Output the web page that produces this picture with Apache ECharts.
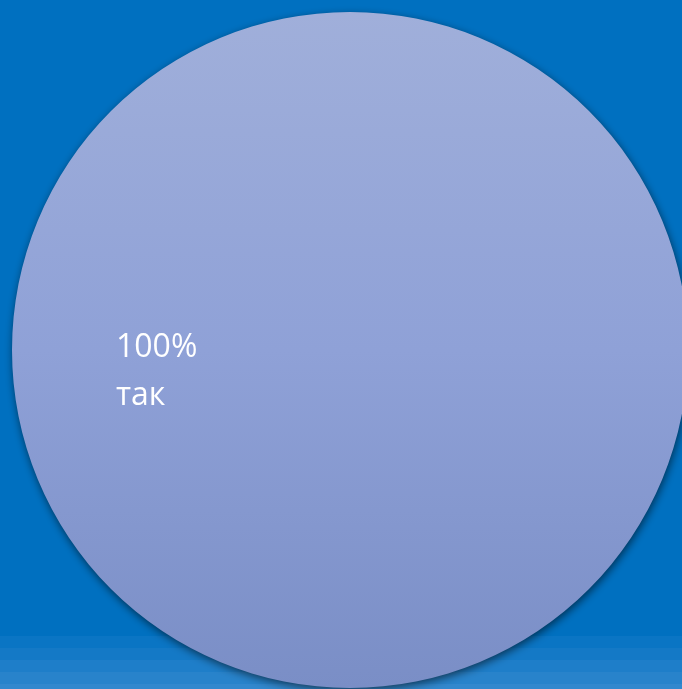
<!DOCTYPE html>
<html>
<head>
<meta charset="utf-8">
<script src="https://cdn.jsdelivr.net/npm/echarts@6/dist/echarts.min.js"></script>
<style>html,body{margin:0;padding:0;background:#0070C0;}#c{width:682px;height:689px;}</style>
</head>
<body>
<div id="c"></div>
<script>
var categories = ['так'];
var values = [100];

var chart = echarts.init(document.getElementById('c'));
var bands = ['#0A75C4', '#1479C6', '#1E7EC9', '#2883CB', '#3288CE'];
var graphics = bands.map(function (c, i) {
  return { type: 'rect', z: -10, silent: true, shape: { x: 0, y: 636 + i * 12, width: 682, height: 12 }, style: { fill: c } };
});
chart.setOption({
  backgroundColor: '#0070C0',
  graphic: graphics,
  series: [{
    type: 'pie',
    center: [350, 350],
    radius: 338,
    startAngle: 0,
    silent: true,
    data: categories.map(function (n, i) { return { name: n, value: values[i] }; }),
    itemStyle: {
      color: { type: 'linear', x: 0, y: 0, x2: 0, y2: 1, colorStops: [
        { offset: 0, color: '#A0AFDA' },
        { offset: 0.5, color: '#8FA1D7' },
        { offset: 1, color: '#7A8EC6' }
      ] },
      shadowBlur: 8,
      shadowColor: 'rgba(0,0,0,0.55)',
      shadowOffsetX: 1,
      shadowOffsetY: 3
    },
    label: {
      show: true,
      position: 'inside',
      formatter: function (p) { return Math.round(p.percent) + '%\n' + p.name; },
      color: '#FFFFFF',
      fontFamily: 'Open Sans',
      fontSize: 32,
      lineHeight: 48
    },
    labelLine: { show: false },
    labelLayout: { x: 116, y: 372, align: 'left', verticalAlign: 'middle' }
  }]
});
</script>
</body>
</html>
